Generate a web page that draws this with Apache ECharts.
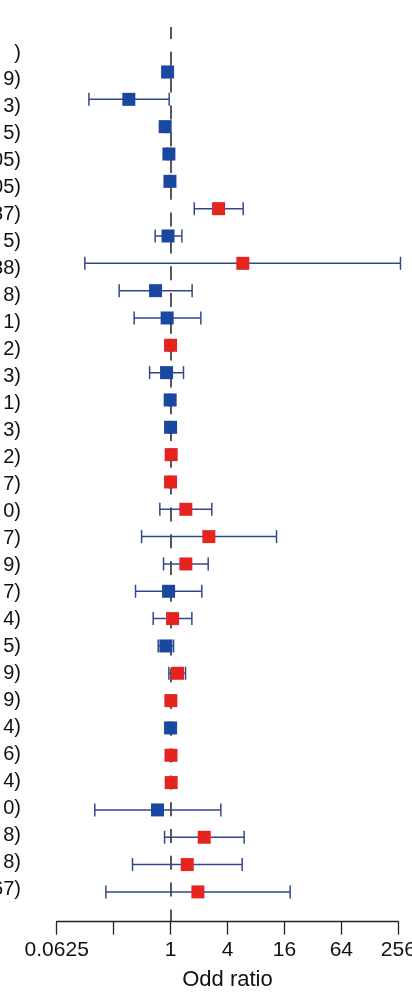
<!DOCTYPE html>
<html>
<head>
<meta charset="utf-8">
<script src="https://cdn.jsdelivr.net/npm/echarts@6/dist/echarts.min.js"></script>
<style>html,body{margin:0;padding:0;background:#fff}#c{width:412px;height:994px}</style>
</head>
<body>
<div id="c"></div>
<script>
// Row labels (left side, cut off by the page edge in the reference)
var rowLabels = [")", "9)", "3)", "5)", "05)", "05)", "37)", "5)", "38)", "8)", "1)", "2)", "3)", "1)", "3)", "2)",
  "7)", "0)", "7)", "9)", "7)", "4)", "5)", "9)", "9)", "4)", "6)", "4)", "0)", "8)", "8)", "67)"];
// Odds ratios (one per marker row, rows 1..31)
var oddsRatio = [0.93, 0.362, 0.877, 0.96, 0.985, 3.22, 0.94, 5.81, 0.694, 0.92, 1.0, 0.907, 0.99, 1.0, 1.015, 1.0,
  1.45, 2.54, 1.45, 0.953, 1.05, 0.892, 1.186, 1.007, 1.0, 1.01, 1.015, 0.728, 2.27, 1.5, 1.944];
var ciLow = [0.88, 0.137, 0.84, 0.93, 0.96, 1.78, 0.687, 0.124, 0.286, 0.412, 0.97, 0.60, 0.96, 0.97, 0.98, 0.97,
  0.77, 0.494, 0.843, 0.426, 0.655, 0.74, 0.96, 0.97, 0.97, 0.98, 0.98, 0.158, 0.864, 0.396, 0.207];
var ciHigh = [0.98, 0.967, 0.92, 0.99, 1.01, 5.86, 1.317, 270, 1.69, 2.09, 1.03, 1.37, 1.02, 1.03, 1.05, 1.03,
  2.73, 13.2, 2.5, 2.14, 1.68, 1.076, 1.44, 1.04, 1.03, 1.04, 1.05, 3.4, 6.0, 5.72, 18.4];
var direction = ["down","down","down","down","down","up","down","up","down","down","up","down","down","down","up","up",
  "up","up","up","down","up","down","up","up","down","up","up","down","up","up","up"];
var xTicks = [0.0625, 0.25, 1, 4, 16, 64, 256];

var FONT = "'Liberation Sans', Arial, sans-serif";
var BLUE = '#1a48a0', RED = '#e52420', BAR = '#34468c';

var pointData = oddsRatio.map(function (v, i) {
  return { value: [v, i + 1], itemStyle: { color: direction[i] === 'up' ? RED : BLUE, opacity: 1 } };
});
var ciData = oddsRatio.map(function (v, i) { return [ciLow[i], ciHigh[i], i + 1]; });

var chart = echarts.init(document.getElementById('c'), null, { renderer: 'canvas' });
chart.setOption({
  animation: false,
  backgroundColor: '#fff',
  grid: [
    { left: 57, right: 13.7, top: 39.5, bottom: 91.5, containLabel: false, outerBoundsMode: 'none' },
    { left: 56.7, right: 13.7, top: 27, bottom: 72.3, containLabel: false, outerBoundsMode: 'none' }
  ],
  xAxis: [
    { gridIndex: 0, type: 'value', show: false, min: 0, max: 1 },
    {
      gridIndex: 1, type: 'log', logBase: 4, min: xTicks[0], max: xTicks[xTicks.length - 1],
      position: 'bottom',
      axisLine: { show: true, onZero: false, lineStyle: { color: '#222', width: 1.3 } },
      axisTick: { show: true, length: 13, lineStyle: { color: '#222', width: 1.3 } },
      minorTick: { show: false },
      splitLine: { show: false },
      axisLabel: {
        margin: 18, fontSize: 21, color: '#111', fontFamily: FONT,
        formatter: function (v) {
          var r = Math.round(v * 10000) / 10000;
          return r === 0.25 ? '' : String(r);
        }
      },
      name: 'Odd ratio', nameLocation: 'middle', nameGap: 47,
      nameTextStyle: { fontSize: 22, color: '#111', fontFamily: FONT }
    }
  ],
  yAxis: [
    {
      gridIndex: 0, type: 'category', inverse: true, data: rowLabels,
      axisLine: { show: false }, axisTick: { show: false }, splitLine: { show: false },
      axisLabel: { margin: 36, fontSize: 20, color: '#111', fontFamily: FONT, interval: 0 }
    },
    {
      gridIndex: 1, type: 'value', inverse: true, min: -0.647, max: 32.09, show: false
    }
  ],
  series: [
    {
      type: 'custom', xAxisIndex: 1, yAxisIndex: 1, clip: false, silent: true,
      data: ciData,
      renderItem: function (params, api) {
        var a = api.coord([api.value(0), api.value(2)]);
        var b = api.coord([api.value(1), api.value(2)]);
        var h = 6.5;
        var st = { stroke: BAR, lineWidth: 1.5 };
        return {
          type: 'group',
          children: [
            { type: 'line', shape: { x1: a[0], y1: a[1], x2: b[0], y2: b[1] }, style: st },
            { type: 'line', shape: { x1: a[0], y1: a[1] - h, x2: a[0], y2: a[1] + h }, style: st },
            { type: 'line', shape: { x1: b[0], y1: b[1] - h, x2: b[0], y2: b[1] + h }, style: st }
          ]
        };
      },
      encode: { x: [0, 1], y: 2 },
      z: 2
    },
    {
      type: 'scatter', xAxisIndex: 1, yAxisIndex: 1, symbol: 'rect', symbolSize: 13,
      data: pointData, z: 3, silent: true,
      itemStyle: { opacity: 1 },
      markLine: {
        silent: true, symbol: 'none', label: { show: false },
        lineStyle: { color: '#222', width: 1.5, type: [14, 12.8], dashOffset: 2 },
        data: [{ xAxis: 1 }],
        z: 1
      }
    }
  ]
});
</script>
</body>
</html>
